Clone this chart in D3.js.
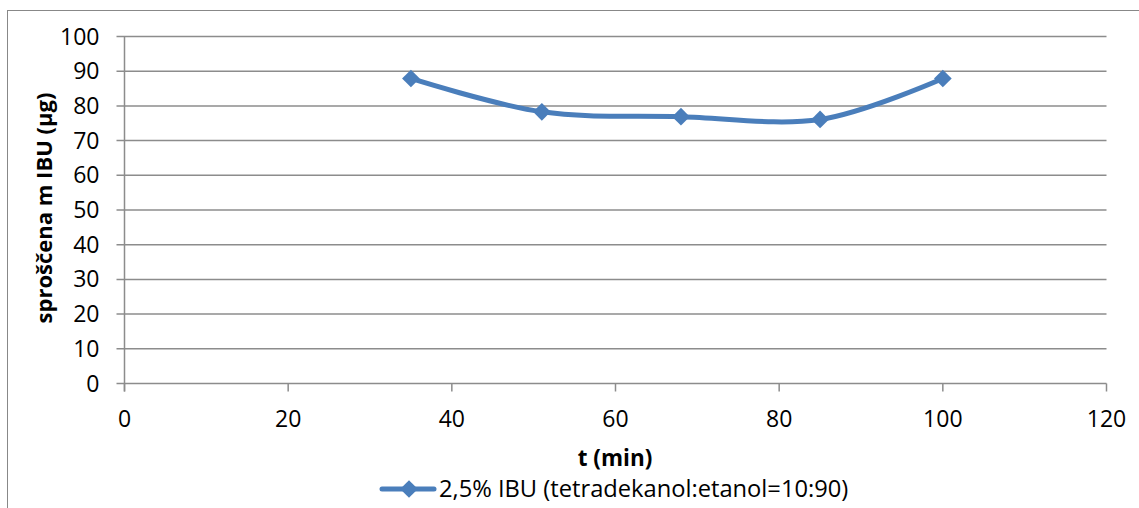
<!DOCTYPE html>
<html>
<head>
<meta charset="utf-8">
<script src="https://cdn.jsdelivr.net/npm/d3@7"></script>
<style>
  body { margin: 0; background: #fff; }
  svg text { font-family: "Open Sans", "Noto Sans", sans-serif; fill: #000; }
</style>
</head>
<body>
<div class="canvas"></div>
<script>
// Data
const times = [35, 51, 68, 85, 100];
const released = [87.9, 78.3, 76.9, 76.1, 87.9];
const xTicks = [0, 20, 40, 60, 80, 100, 120];
const yTicks = [0, 10, 20, 30, 40, 50, 60, 70, 80, 90, 100];
const seriesName = "2,5% IBU (tetradekanol:etanol=10:90)";

const width = 1139, height = 508;
const svg = d3.select(".canvas").append("svg")
    .attr("width", width)
    .attr("height", height);

// chart border
svg.append("rect")
    .attr("x", 7.5).attr("y", 10.5)
    .attr("width", width).attr("height", height)
    .attr("fill", "none")
    .attr("stroke", "#888");

const x = d3.scaleLinear().domain([0, 120]).range([124.5, 1106.5]);
const y = d3.scaleLinear().domain([0, 100]).range([383.5, 36.5]);

// Gridlines
svg.append("g")
    .selectAll("line")
    .data(yTicks)
    .enter().append("line")
    .attr("x1", x(0) - 8).attr("x2", x(120))
    .attr("y1", d => y(d)).attr("y2", d => y(d))
    .attr("stroke", "#8c8c8c")
    .attr("stroke-width", 1.5);

// y axis line
svg.append("line")
    .attr("x1", x(0)).attr("x2", x(0))
    .attr("y1", y(100)).attr("y2", y(0) + 8)
    .attr("stroke", "#8c8c8c").attr("stroke-width", 1.5);

// x ticks
svg.append("g")
    .selectAll("line")
    .data(xTicks)
    .enter().append("line")
    .attr("x1", d => x(d)).attr("x2", d => x(d))
    .attr("y1", y(0)).attr("y2", y(0) + 8)
    .attr("stroke", "#8c8c8c").attr("stroke-width", 1.5);

// tick labels
svg.append("g")
    .selectAll("text")
    .data(yTicks)
    .enter().append("text")
    .attr("x", x(0) - 25)
    .attr("y", d => y(d))
    .attr("dy", "0.35em")
    .attr("text-anchor", "end")
    .style("font-size", "23px")
    .text(d => d);

svg.append("g")
    .selectAll("text")
    .data(xTicks)
    .enter().append("text")
    .attr("x", d => x(d))
    .attr("y", 427)
    .attr("text-anchor", "middle")
    .style("font-size", "23px")
    .text(d => d);

// axis titles
svg.append("text")
    .attr("transform", "translate(52,208) rotate(-90)")
    .attr("text-anchor", "middle")
    .style("font-size", "22px")
    .style("font-weight", "bold")
    .text("sproščena m IBU (µg)");

svg.append("text")
    .attr("x", 615)
    .attr("y", 466)
    .attr("text-anchor", "middle")
    .style("font-size", "22.5px")
    .style("font-weight", "bold")
    .text("t (min)");

// series line
const points = times.map((t, i) => [t, released[i]]);
const line = d3.line()
    .x(d => x(d[0]))
    .y(d => y(d[1]))
    .curve(d3.curveCardinal.tension(0));

const blue = "#4a7ebb";
svg.append("path")
    .datum(points)
    .attr("d", line)
    .attr("fill", "none")
    .attr("stroke", blue)
    .attr("stroke-width", 5)
    .attr("stroke-linecap", "round");

const diamond = d3.symbol().type(d3.symbolDiamond2).size(200);
svg.append("g")
    .selectAll("path")
    .data(points)
    .enter().append("path")
    .attr("d", diamond)
    .attr("transform", d => "translate(" + x(d[0]) + "," + y(d[1]) + ")")
    .attr("fill", blue);

// legend
const legend = svg.append("g").attr("transform", "translate(0,489)");
legend.append("line")
    .attr("x1", 382).attr("x2", 434)
    .attr("y1", 0).attr("y2", 0)
    .attr("stroke", blue).attr("stroke-width", 5)
    .attr("stroke-linecap", "round");
legend.append("path")
    .attr("d", diamond)
    .attr("transform", "translate(409,0)")
    .attr("fill", blue);
legend.append("text")
    .attr("x", 439)
    .attr("y", 0)
    .attr("dy", "0.35em")
    .style("font-size", "23.7px")
    .text(seriesName);
</script>
</body>
</html>
